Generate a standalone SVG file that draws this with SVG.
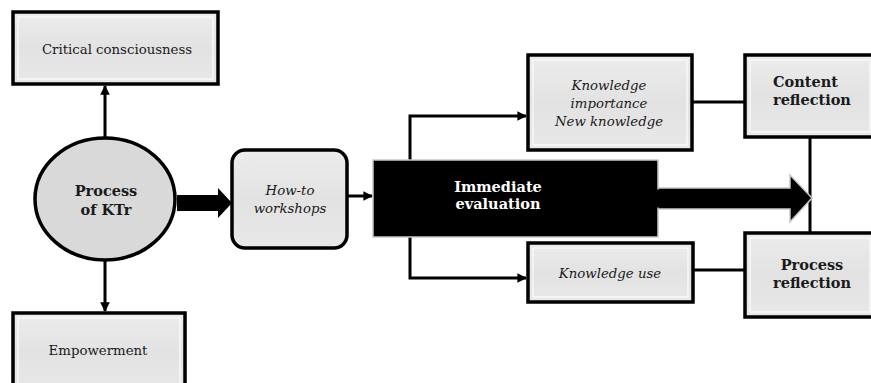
<svg xmlns="http://www.w3.org/2000/svg" width="871" height="383" viewBox="0 0 871 383">
<defs>
<marker id="ah" viewBox="0 0 10 10" refX="9" refY="5" markerWidth="3.2" markerHeight="3.2" orient="auto" markerUnits="strokeWidth">
<path d="M0,0 L10,5 L0,10 z" fill="#000"/>
</marker>
<linearGradient id="g" x1="0" y1="0" x2="0" y2="1">
<stop offset="0" stop-color="#ececec"/>
<stop offset="0.5" stop-color="#e2e2e2"/>
<stop offset="1" stop-color="#e8e8e8"/>
</linearGradient>
</defs>
<style>
.box{fill:url(#g);stroke:#000;stroke-width:3.5}
.inner{fill:none;stroke:#f8f8f8;stroke-width:1.5}
.t{font-family:"DejaVu Serif","Liberation Serif",serif;font-size:13.3px;fill:#1a1a1a;text-anchor:middle}
.i{font-style:italic}
.b{font-weight:bold;font-size:14.5px}
.w{fill:#fff}
.l{text-anchor:start}
.ln{fill:none;stroke:#000;stroke-width:3}
</style>
<rect width="871" height="383" fill="#fff"/>
<g id="connectors">
<line class="ln" x1="105" y1="138" x2="105" y2="86" marker-end="url(#ah)"/>
<line class="ln" x1="105" y1="260" x2="105" y2="311" marker-end="url(#ah)"/>
<path d="M177,195 H218 V188 L232,203 L218,218 V211 H177 z" fill="#000"/>
<line class="ln" x1="348" y1="196" x2="372" y2="196" marker-end="url(#ah)"/>
<polyline class="ln" points="410,160 410,116 526,116" marker-end="url(#ah)"/>
<polyline class="ln" points="410,237 410,278 526,278" marker-end="url(#ah)"/>
<line class="ln" x1="692" y1="102" x2="745" y2="102"/>
<line class="ln" x1="693" y1="270" x2="745" y2="270"/>
<line class="ln" x1="810" y1="137" x2="810" y2="233"/>
</g>
<g id="critical">
<rect class="box" x="13" y="12" width="205" height="72"/>
<rect class="inner" x="18" y="17" width="195" height="62"/>
<text class="t" x="117" y="54">Critical consciousness</text>
</g>
<g id="empowerment">
<rect class="box" x="13" y="313" width="172" height="80"/>
<rect class="inner" x="18" y="318" width="162" height="70"/>
<text class="t" x="98" y="355">Empowerment</text>
</g>
<g id="ktr">
<ellipse cx="105" cy="199" rx="70" ry="61" fill="#d9d9d9" stroke="#000" stroke-width="3.5"/>
<text class="t b" x="106" y="196">Process</text>
<text class="t b" x="106" y="215">of KTr</text>
</g>
<g id="howto">
<rect class="box" x="232" y="150" width="115" height="98" rx="13"/>
<text class="t i" x="290" y="195">How-to</text>
<text class="t i" x="290" y="213">workshops</text>
</g>
<g id="immediate">
<path d="M657,188 H790 V175 L812,198 L790,222 V209 H657 z" fill="#000" stroke="#c8c8c8" stroke-width="1.5"/>
<rect x="373" y="160" width="285" height="77" fill="#000" stroke="#c8c8c8" stroke-width="1.5"/>
<rect x="657" y="189.5" width="3" height="18" fill="#000"/>
<text class="t b w" x="498" y="192">Immediate</text>
<text class="t b w" x="498" y="209">evaluation</text>
</g>
<g id="knowledge-importance">
<rect class="box" x="528" y="55" width="164" height="95"/>
<rect class="inner" x="533" y="60" width="154" height="85"/>
<text class="t i" x="609" y="90">Knowledge</text>
<text class="t i" x="609" y="108">importance</text>
<text class="t i" x="609" y="126">New knowledge</text>
</g>
<g id="knowledge-use">
<rect class="box" x="528" y="243" width="165" height="59"/>
<rect class="inner" x="533" y="248" width="155" height="49"/>
<text class="t i" x="610" y="278">Knowledge use</text>
</g>
<g id="content-reflection">
<rect class="box" x="745" y="55" width="130" height="82"/>
<rect class="inner" x="750" y="60" width="120" height="72"/>
<text class="t b l" x="773" y="87">Content</text>
<text class="t b l" x="773" y="105">reflection</text>
</g>
<g id="process-reflection">
<rect class="box" x="745" y="233" width="130" height="84"/>
<rect class="inner" x="750" y="238" width="120" height="74"/>
<text class="t b" x="812" y="270">Process</text>
<text class="t b" x="812" y="288">reflection</text>
</g>
</svg>
